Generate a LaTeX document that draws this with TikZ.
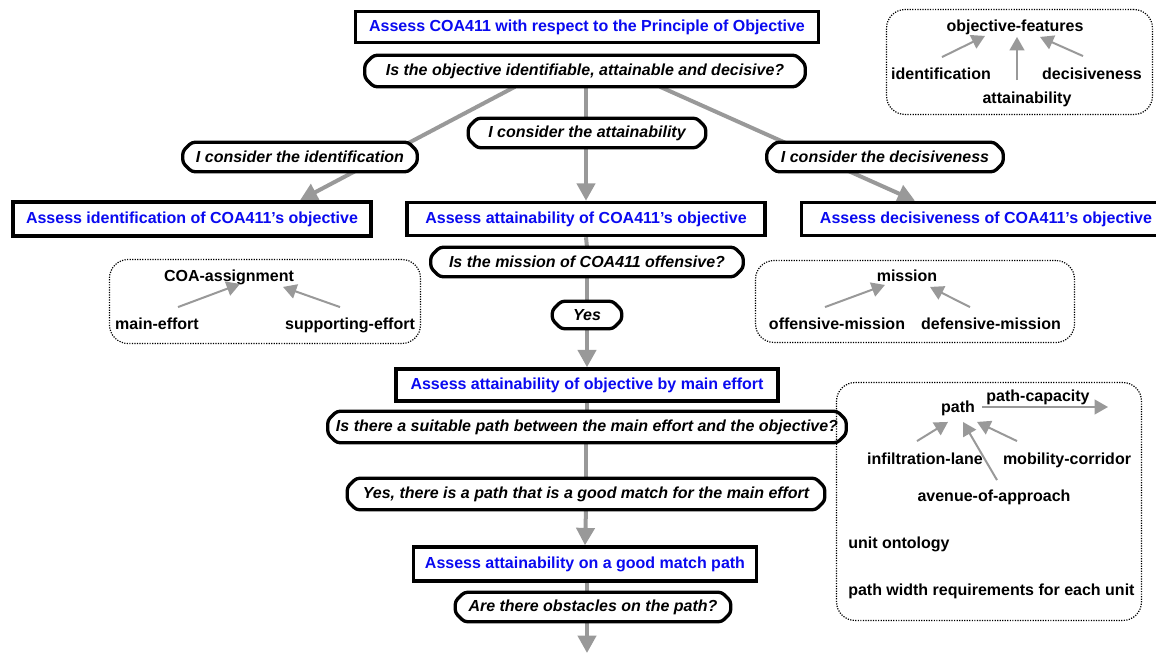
\documentclass[tikz,border=0pt]{standalone}
\usepackage{fontspec}
\setmainfont{Liberation Sans}
\usetikzlibrary{arrows.meta,calc,backgrounds}
\definecolor{conn}{RGB}{153,153,153}
\definecolor{tblue}{RGB}{10,10,240}
\tikzset{
  sz/.style 2 args={minimum width={(#1-3)*0.75pt}, minimum height={(#2-3)*0.75pt}},
  box/.style={draw, line width=2.6pt, rectangle, fill=white, text=tblue, inner sep=1pt,
    font=\fontsize{12}{14}\selectfont\bfseries},
  qline/.style={draw, fill=white, line width=2.5pt, line join=round, rounded corners=2.5pt},
  qn/.style={rectangle, inner sep=1pt,
    font=\fontsize{12}{14}\selectfont\bfseries\itshape,
    append after command={\pgfextra{%
      \draw[qline] ($(\tikzlastnode.north west)+(9,0)$) -- ($(\tikzlastnode.north east)+(-9,0)$)
        -- ($(\tikzlastnode.north east)+(0,9)$) -- ($(\tikzlastnode.south east)+(0,-9)$)
        -- ($(\tikzlastnode.south east)+(-9,0)$) -- ($(\tikzlastnode.south west)+(9,0)$)
        -- ($(\tikzlastnode.south west)+(0,-9)$) -- ($(\tikzlastnode.north west)+(0,9)$)
        -- cycle;}}},
  lbl/.style={inner sep=0pt, text height=9pt, text depth=2.5pt,
    font=\fontsize{12}{14}\selectfont\bfseries},
  frame/.style={draw, densely dotted, line width=0.9pt, rounded corners=14pt},
  conline/.style={draw=conn, line width=3pt},
  conarrow/.style={conline, -{Triangle[width=13.5pt,length=13pt]}},
  onto/.style={draw=conn, line width=1.5pt, -{Triangle[width=11pt,length=10pt]}},
}
\begin{document}
\begin{tikzpicture}[x=0.75pt,y=-0.75pt]
\useasboundingbox (0,0) rectangle (1156,653);

% main flow
\node[box, sz={466}{34}] (top) at (587,27) {Assess COA411 with respect to the Principle of Objective};
\node[qn, sz={443}{34}] (q1) at (585,71) {Is the objective identifiable, attainable and decisive?};
\node[qn, sz={237}{32}] (lid) at (300,157) {I consider the identification};
\node[qn, sz={240}{32}] (lat) at (587,133) {I consider the attainability};
\node[qn, sz={239}{32}] (ldec) at (885,157) {I consider the decisiveness};
\node[box, sz={361}{37}] (b1) at (192,219) {Assess identification of COA411’s objective};
\node[box, sz={361}{36}] (b2) at (586,219) {Assess attainability of COA411’s objective};
\node[box, sz={372}{36}] (b3) at (986,219) {Assess decisiveness of COA411’s objective};
\node[qn, sz={315}{32}] (qmis) at (587,262) {Is the mission of COA411 offensive?};
\node[qn, sz={72}{30}] (yes) at (587,315) {Yes};
\node[box, sz={385}{35}] (bme) at (587,385) {Assess attainability of objective by main effort};
\node[qn, sz={521}{34}] (qpath) at (587,427) {Is there a suitable path between the main effort and the objective?};
\node[qn, sz={480}{34}] (lyes2) at (586,494) {Yes, there is a path that is a good match for the main effort};
\node[box, sz={346}{37}] (bgood) at (585,564) {Assess attainability on a good match path};
\node[qn, sz={278}{32}] (qobs) at (593,607) {Are there obstacles on the path?};
\coordinate (bottomend) at (587,653);

\begin{pgfonlayer}{background}
  \draw[conarrow] ($(q1.south)+(-70,0)$) -- ($(b1.north)+(108,0)$);
  \draw[conarrow] ($(q1.south)+(1,0)$) -- (b2.north);
  \draw[conarrow] ($(q1.south)+(75,0)$) -- ($(b3.north)+(-71,0)$);
  \draw[conline] (b2.south) -- (qmis.north);
  \draw[conline] (qmis.south) -- (yes.north);
  \draw[conarrow] (yes.south) -- (bme.north);
  \draw[conline] (bme.south) -- (qpath.north);
  \draw[conline] (qpath.south) -- (lyes2.south |- qpath.south) -- (lyes2.north);
  \draw[conarrow] (lyes2.south) -- (bgood.north);
  \draw[conline] ($(bgood.south)+(2,0)$) -- ($(qobs.north)+(-6,0)$);
  \draw[conarrow] (qobs.south -| bottomend) -- (bottomend);
\end{pgfonlayer}

% ontology: objective-features
\node[frame, sz={269}{108}] (fobj) at (1019.5,62) {};
\node[lbl] (objf) at (1015,27) {objective-features};
\node[lbl] (ident) at (941,75) {identification};
\node[lbl] (attain) at (1027,99) {attainability};
\node[lbl] (decis) at (1092,75) {decisiveness};
\draw[onto] ($(ident.north)+(1,-10)$) -- ($(objf.south)+(-30,1)$);
\draw[onto] ($(attain.north)+(-10,-11)$) -- ($(objf.south)+(2,2)$);
\draw[onto] ($(decis.north)+(-9,-11)$) -- ($(objf.south)+(25,2)$);

% ontology: COA-assignment
\node[frame, sz={314}{87}] (fcoa) at (265,301.5) {};
\node[lbl] (coa) at (229,277) {COA-assignment};
\node[lbl] (main) at (157,325) {main-effort};
\node[lbl] (supp) at (350,325) {supporting-effort};
\draw[onto] ($(main.north)+(21,-10)$) -- ($(coa.south)+(11,-1)$);
\draw[onto] ($(supp.north)+(-10,-10)$) -- ($(coa.south)+(54,2)$);

% ontology: mission
\node[frame, sz={322}{85}] (fmis) at (915,301.5) {};
\node[lbl] (mission) at (907,277) {mission};
\node[lbl] (off) at (837,325) {offensive-mission};
\node[lbl] (def) at (991,325) {defensive-mission};
\draw[onto] ($(off.north)+(-12,-10)$) -- ($(mission.south)+(-22,0)$);
\draw[onto] ($(def.north)+(-21,-10)$) -- ($(mission.south)+(23,2)$);

% ontology: path
\node[frame, sz={308}{241}] (fpath) at (989,501.5) {};
\node[lbl] (path) at (958,408) {path};
\node[lbl] (pcap) at (1038,397) {path-capacity};
\coordinate (capend) at (1108,407);
\node[lbl] (infil) at (925,460) {infiltration-lane};
\node[lbl] (mob) at (1067,460) {mobility-corridor};
\node[lbl] (aven) at (994,497) {avenue-of-approach};
\node[lbl, anchor=west] (unit) at (848,544) {unit ontology};
\node[lbl, anchor=west] (pwidth) at (848,591) {path width requirements for each unit};
\draw[onto] ($(path.east)+(7,-1)$) -- (capend);
\draw[onto] ($(infil.north)+(-8,-11)$) -- ($(path.south)+(-10,6)$);
\draw[onto] ($(aven.north)+(3,-9)$) -- ($(path.south)+(5,6)$);
\draw[onto] ($(mob.north)+(-50,-11)$) -- ($(path.south)+(19,6)$);
\end{tikzpicture}
\end{document}
